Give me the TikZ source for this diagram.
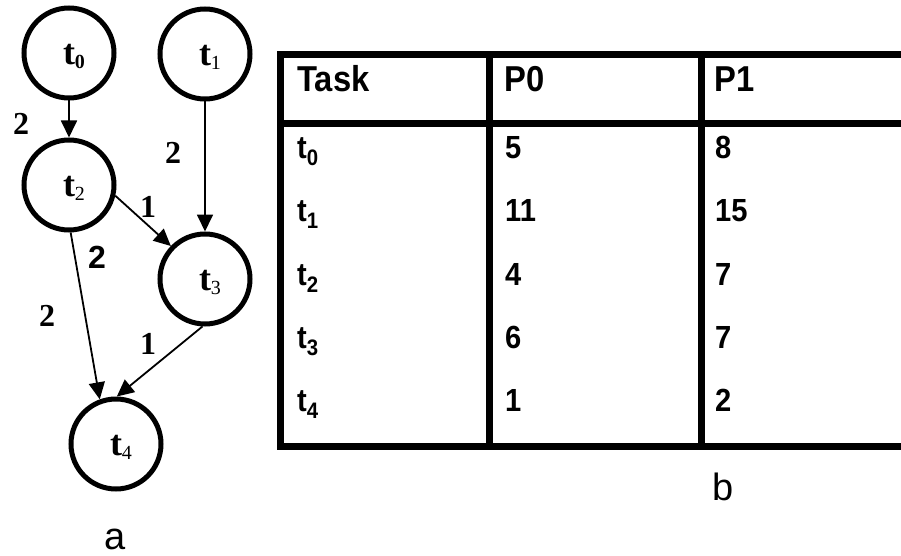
\documentclass[tikz,border=0pt]{standalone}
\usepackage{fontspec}
\setmainfont{Liberation Serif}
\newfontfamily\tabfont[FakeStretch=0.91]{Liberation Sans}
\newfontfamily\capfont{Liberation Sans}
\usetikzlibrary{arrows.meta}
\newcommand{\tsubb}[1]{\raisebox{-4pt}{\fontsize{20}{20}\selectfont #1}}
\begin{document}
\begin{tikzpicture}[x=1pt,y=-1pt,
  task/.style={circle,draw,line width=5pt,minimum size=90pt,inner sep=0pt},
  tlbl/.style={font=\fontsize{36}{40}\selectfont\bfseries,inner sep=0pt,xshift=5pt,yshift=-3pt},
  edge/.style={line width=1.8pt,-{Triangle[length=17pt,width=16pt]}},
  wlbl/.style={font=\fontsize{32}{36}\selectfont\bfseries,inner sep=0pt},
  wlbls/.style={font=\capfont\fontsize{32}{36}\selectfont\bfseries,inner sep=0pt},
  rulel/.style={line width=7pt},
  head/.style={font=\tabfont\fontsize{36}{40}\selectfont\bfseries,anchor=base west,inner sep=0pt},
  cell/.style={font=\tabfont\fontsize{32}{36}\selectfont\bfseries,anchor=base west,inner sep=0pt},
  capt/.style={font=\capfont\fontsize{38}{42}\selectfont,anchor=base,inner sep=0pt}]
\useasboundingbox (0,0) rectangle (901,556);

% graph
\node[task,label={[tlbl]center:t\tsubb{0}}] (t0) at (69,53) {};
\node[task,label={[tlbl]center:t\tsubb{\mdseries 1}}] (t1) at (205,54) {};
\node[task,label={[tlbl]center:t\tsubb{\mdseries 2}}] (t2) at (69,185) {};
\node[task,label={[tlbl]center:t\tsubb{\mdseries 3}}] (t3) at (205,279) {};
\node[task,label={[tlbl]center:t\tsubb{\mdseries 4}}] (t4) at (116,444) {};

\draw[edge] (t0.south) -- (t2.north);
\draw[edge] (t1.south) -- (t3.north);
\draw[edge] (t2.-13) -- (t3.136);
\draw[edge] (t2.-88) -- (t4.110);
\draw[edge] (t3.-93) -- (t4.89);

\node[wlbl] (w02) at (21,124) {2};
\node[wlbl] (w13) at (173,153) {2};
\node[wlbl] (w23) at (148,207) {1};
\node[wlbls] (w24a) at (97,257) {2};
\node[wlbl] (w24b) at (47,316) {2};
\node[wlbl] (w34) at (148,344) {1};

\node[capt] (capa) at (115,549) {a};

% table
\draw[rulel] (905,54.5) -- (280,54.5) -- (280,446) -- (905,446);
\draw[rulel] (280,123.5) -- (905,123.5);
\draw[rulel] (489.5,54.5) -- (489.5,446);
\draw[rulel] (701.5,54.5) -- (701.5,446);

\node[head] (hT) at (297,91.7) {Task};
\node[head] (hP0) at (504,91.7) {P0};
\node[head] (hP1) at (714,91.7) {P1};

\node[cell] (r0a) at (297,158.3) {t\textsubscript{0}};
\node[cell] (r0b) at (505,158.3) {5};
\node[cell] (r0c) at (715,158.3) {8};
\node[cell] (r1a) at (297,221.7) {t\textsubscript{1}};
\node[cell] (r1b) at (505,221.7) {11};
\node[cell] (r1c) at (715,221.7) {15};
\node[cell] (r2a) at (297,285) {t\textsubscript{2}};
\node[cell] (r2b) at (505,285) {4};
\node[cell] (r2c) at (715,285) {7};
\node[cell] (r3a) at (297,348.4) {t\textsubscript{3}};
\node[cell] (r3b) at (505,348.4) {6};
\node[cell] (r3c) at (715,348.4) {7};
\node[cell] (r4a) at (297,411.7) {t\textsubscript{4}};
\node[cell] (r4b) at (505,411.7) {1};
\node[cell] (r4c) at (715,411.7) {2};

\node[capt] (capb) at (723,500) {b};
\end{tikzpicture}
\end{document}
